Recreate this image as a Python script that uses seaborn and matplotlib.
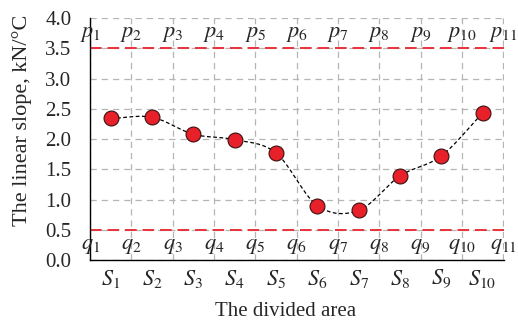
import numpy as np
import pandas as pd
import seaborn as sns
import matplotlib
matplotlib.use("Agg")
import matplotlib.pyplot as plt

# Linear slope of each divided area (kN/°C)
areas = ["S1", "S2", "S3", "S4", "S5", "S6", "S7", "S8", "S9", "S10"]
slopes = [2.34, 2.36, 2.08, 1.99, 1.77, 0.90, 0.82, 1.39, 1.72, 2.43]
upper_limit = 3.5
lower_limit = 0.5
y_ticks = [0.0, 0.5, 1.0, 1.5, 2.0, 2.5, 3.0, 3.5, 4.0]

sns.set_theme(style="white")
plt.rcParams["font.family"] = ["Liberation Serif", "DejaVu Serif"]
plt.rcParams["mathtext.fontset"] = "stix"

df = pd.DataFrame({"area": areas, "slope": slopes})
df["pos"] = np.arange(len(areas)) + 0.5

fig = plt.figure(figsize=(5.18, 3.23), dpi=100)
ax = fig.add_axes([0.174, 0.195, 0.799, 0.749])

# smooth dashed connecting curve (Catmull-Rom through the points)
def catmull_rom(xs, ys, n=30):
    px = np.concatenate([[2 * xs[0] - xs[1]], xs, [2 * xs[-1] - xs[-2]]])
    py = np.concatenate([[2 * ys[0] - ys[1]], ys, [2 * ys[-1] - ys[-2]]])
    out_x, out_y = [], []
    t = np.linspace(0, 1, n)
    for i in range(1, len(px) - 2):
        for arr, out in ((px, out_x), (py, out_y)):
            p0, p1, p2, p3 = arr[i - 1], arr[i], arr[i + 1], arr[i + 2]
            out.extend(0.5 * (2 * p1 + (-p0 + p2) * t
                              + (2 * p0 - 5 * p1 + 4 * p2 - p3) * t ** 2
                              + (-p0 + 3 * p1 - 3 * p2 + p3) * t ** 3))
    return np.array(out_x), np.array(out_y)

cx, cy = catmull_rom(df["pos"].to_numpy(), df["slope"].to_numpy())
ax.plot(cx, cy, color="black", linestyle=(0, (3, 2)), linewidth=0.9, zorder=3)

sns.scatterplot(data=df, x="pos", y="slope", ax=ax, s=115, color="#e8202a",
                edgecolor="#3a1010", linewidth=0.8, zorder=4, legend=False)

# limit lines
ax.axhline(upper_limit, color="#e8333a", linestyle=(0, (6, 3)), linewidth=1.4, zorder=2)
ax.axhline(lower_limit, color="#e8333a", linestyle=(0, (6, 3)), linewidth=1.4, zorder=2)

# boundary labels
for i in range(len(areas) + 1):
    ax.text(i, 3.73, f"$p_{{{i + 1}}}$", ha="center", va="center", fontsize=16, zorder=5)
    ax.text(i, 0.23, f"$q_{{{i + 1}}}$", ha="center", va="center", fontsize=16, zorder=5)

ax.set_xlim(0, 10.02)
ax.set_ylim(0, 4.0)
ax.set_yticks(y_ticks)
ax.set_yticklabels([f"{v:.1f}" for v in y_ticks])
ax.set_xticks(np.arange(0, 11))
ax.set_xticklabels([])
ax.set_xticks(df["pos"], minor=True)
ax.set_xticklabels([f"$S_{{{a[1:]}}}$" for a in areas], minor=True)

ax.grid(True, which="major", color="#b5b5b5", linestyle=(0, (5, 4)), linewidth=0.9)
ax.set_axisbelow(True)
ax.tick_params(axis="both", which="major", direction="inout", length=7, width=1,
               color="black", labelsize=15)
ax.tick_params(axis="x", which="minor", length=0, labelsize=16, pad=6)
ax.tick_params(axis="y", pad=10)

for s in ("top", "right"):
    ax.spines[s].set_visible(False)
for s in ("left", "bottom"):
    ax.spines[s].set_color("black")
    ax.spines[s].set_linewidth(1.0)

ax.set_xlabel("The divided area", fontsize=15)
ax.set_ylabel("The linear slope, kN/°C", fontsize=16)
ax.xaxis.set_label_coords(0.473, -0.172)
ax.yaxis.set_label_coords(-0.14, 0.578)

fig.savefig("out.png", dpi=100)
